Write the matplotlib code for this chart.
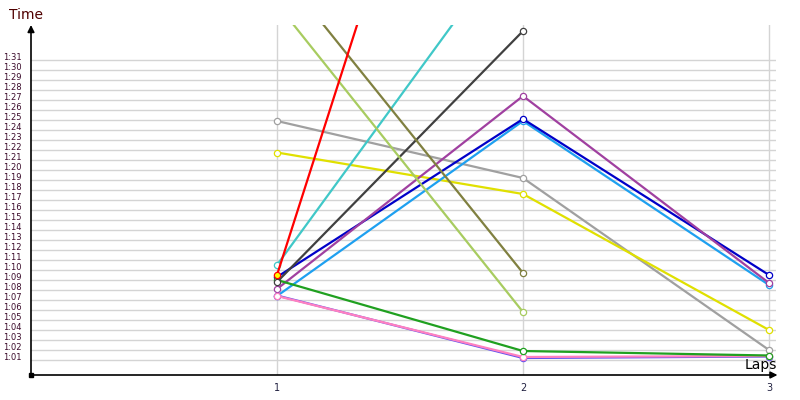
import numpy as np
import matplotlib
matplotlib.use('Agg')
import matplotlib.pyplot as plt
import matplotlib.transforms as mtransforms

# 圈数
laps = [1, 2, 3]

# 每位车手每圈用时(秒), nan 表示没有数据
red = [69.5, 146.3, np.nan]
light_green = [96.6, 65.8, np.nan]
olive = [100.3, 69.7, np.nan]
cyan = [70.5, 104.2, np.nan]
dark_gray = [68.8, 93.9, np.nan]
purple = [68.1, 87.4, 68.7]
dark_blue = [69.3, 85.1, 69.5]
light_blue = [67.4, 84.9, 68.5]
gray = [84.9, 79.2, 62.0]
yellow = [81.75, 77.6, 64.0]
green = [69.0, 61.9, 61.45]
pink = [67.4, 61.3, 61.4]
violet = [67.45, 61.2, 61.35]

# y轴刻度 1:01 ~ 1:31
y_ticks = list(range(61, 92))
y_labels = ['%d:%02d' % (t // 60, t % 60) for t in y_ticks]
x_labels = ['1', '2', '3']

series = [
    (gray, '#a0a0a0'),
    (yellow, '#e0e000'),
    (light_blue, '#1ea0f0'),
    (dark_blue, '#0000c8'),
    (purple, '#a040a0'),
    (violet, '#6050f0'),
    (pink, '#ff80c0'),
    (green, '#20a020'),
    (dark_gray, '#404040'),
    (cyan, '#40c8c8'),
    (olive, '#808040'),
    (light_green, '#a8cc60'),
    (red, '#ff0000'),
]

fig = plt.figure(figsize=(8, 4), dpi=100)
ax = fig.add_axes([31 / 800, 25 / 400, 745 / 800, 350 / 400])
ax.set_xlim(0, 745 / 246)
ax.set_ylim(59.5, 94.5)

# 网格线
for t in y_ticks:
    ax.axhline(t, color='#d4d4d4', linewidth=1.0, zorder=1)
for x in laps:
    ax.axvline(x, color='#d4d4d4', linewidth=1.0, zorder=1)

for vals, col in series:
    face = 'yellow' if col == '#ff0000' else 'white'
    ax.plot(laps, vals, color=col, linewidth=1.6, marker='o', markersize=4.5,
            markerfacecolor=face, markeredgecolor=col, markeredgewidth=0.9, zorder=3)

for s in ax.spines.values():
    s.set_visible(False)

ax.set_yticks(y_ticks)
ax.set_yticklabels(y_labels, fontsize=6, color='#3a0a2a')
ax.set_xticks(laps)
ax.set_xticklabels(x_labels, fontsize=7, color='#202040')
ax.tick_params(axis='both', length=0)
ax.tick_params(axis='y', pad=7)
ax.tick_params(axis='x', pad=6)
offset = mtransforms.ScaledTranslation(0, 0.04, fig.dpi_scale_trans)
for lab in ax.get_yticklabels():
    lab.set_transform(lab.get_transform() + offset)

# 坐标轴箭头
ax.annotate('', xy=(0, 1.0), xycoords='axes fraction', xytext=(0, 0),
            arrowprops=dict(arrowstyle='-|>', color='black', lw=1.2,
                            mutation_scale=10, shrinkA=0, shrinkB=0),
            annotation_clip=False)
ax.annotate('', xy=(1.002, 0), xycoords='axes fraction', xytext=(0, 0),
            arrowprops=dict(arrowstyle='-|>', color='black', lw=1.2,
                            mutation_scale=10, shrinkA=0, shrinkB=0),
            annotation_clip=False)
ax.plot([0], [59.5], marker='s', color='black', markersize=3, clip_on=False, zorder=5)

fig.text(9 / 800, 1 - 15 / 400, 'Time', fontsize=10, color='#500000', va='center', ha='left')
fig.text(777 / 800, 1 - 365 / 400, 'Laps', fontsize=10, color='black', va='center', ha='right')

fig.savefig('out.png', dpi=100)
